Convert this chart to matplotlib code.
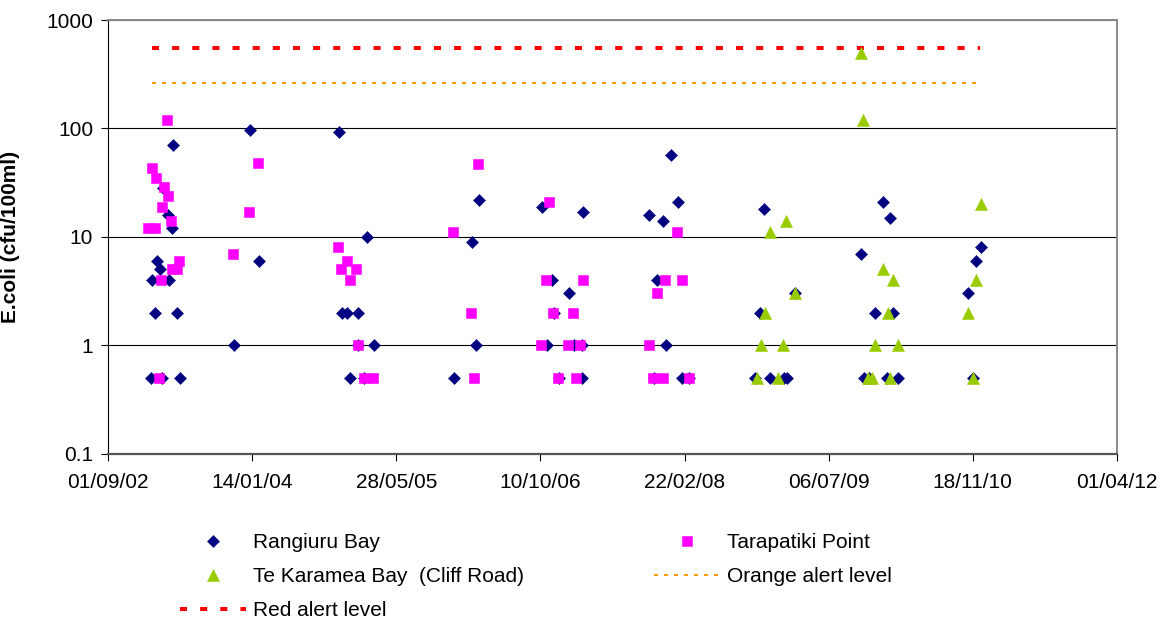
import matplotlib
matplotlib.use("Agg")
import matplotlib.pyplot as plt
from matplotlib.ticker import FixedLocator, NullLocator, FixedFormatter
import matplotlib.dates as mdates
from datetime import datetime, timedelta

plt.rcParams['font.family'] = ['Liberation Sans', 'DejaVu Sans']

# --- Sample results (E.coli, cfu/100ml) -------------------------------------
rangiuru_dates = [
    "2003-01-26", "2003-03-05", "2003-05-07", "2003-02-10", "2003-04-26",
    "2003-01-30", "2003-03-30", "2003-02-27", "2003-02-16", "2003-04-09",
    "2003-03-28", "2003-03-11", "2003-04-14",
    "2004-01-07", "2003-11-10", "2004-02-05",
    "2004-11-11", "2005-02-15", "2004-11-21", "2004-12-08", "2005-01-13",
    "2005-03-10", "2005-01-15", "2004-12-19", "2005-02-03",
    "2006-03-10", "2006-02-14", "2006-02-28", "2005-12-13", "2006-10-16",
    "2007-03-08", "2006-11-18", "2007-01-16", "2006-11-26", "2006-11-02",
    "2007-02-03", "2007-03-03", "2006-12-15", "2007-03-03",
    "2008-01-06", "2008-01-29", "2007-10-23", "2007-12-08", "2007-11-19",
    "2007-12-20", "2007-11-07", "2008-02-13", "2008-03-10",
    "2008-11-25", "2009-03-10", "2008-11-09", "2008-10-25", "2008-12-14",
    "2009-01-31", "2009-02-12",
    "2009-10-28", "2010-01-11", "2010-02-03", "2010-12-18", "2010-12-01",
    "2010-11-01", "2009-12-13", "2010-02-14", "2009-11-05", "2009-11-22",
    "2010-01-25", "2010-03-04", "2010-11-20",
]
rangiuru_values = [
    0.5, 0.5, 0.5, 2, 2,
    4, 4, 5, 6, 12,
    16, 28, 70,
    97, 1, 6,
    93, 10, 2, 2, 2,
    1, 1, 0.5, 0.5,
    22, 9, 1, 0.5, 19,
    17, 4, 3, 2, 1,
    1, 1, 0.5, 0.5,
    57, 21, 16, 14, 4,
    1, 0.5, 0.5, 0.5,
    18, 3, 2, 0.5, 0.5,
    0.5, 0.5,
    7, 21, 15, 8, 6,
    3, 2, 2, 0.5, 0.5,
    0.5, 0.5, 0.5,
]

tarapatiki_dates = [
    "2003-03-24", "2003-02-01", "2003-02-13", "2003-03-13", "2003-03-26",
    "2003-03-07", "2003-04-05", "2003-01-18", "2003-02-10", "2003-05-04",
    "2003-04-11", "2003-04-26", "2003-03-02", "2003-02-25",
    "2004-02-02", "2004-01-04", "2003-11-07",
    "2004-11-07", "2004-12-06", "2004-11-18", "2005-01-09", "2004-12-17",
    "2005-01-15", "2005-02-03", "2005-03-07",
    "2006-03-07", "2005-12-11", "2006-11-10", "2006-02-12", "2006-02-23",
    "2006-10-29", "2007-03-06", "2006-11-22", "2007-01-30", "2006-10-12",
    "2007-01-13", "2007-02-25", "2006-12-09", "2007-02-10",
    "2008-01-27", "2007-12-17", "2008-02-13", "2007-11-19", "2007-10-21",
    "2007-11-05", "2007-12-08", "2008-03-07",
]
tarapatiki_values = [
    120, 43, 35, 29, 24,
    19, 14, 12, 12, 6,
    5, 5, 4, 0.5,
    48, 17, 7,
    8, 6, 5, 5, 4,
    1, 0.5, 0.5,
    47, 11, 21, 2, 0.5,
    4, 4, 2, 2, 1,
    1, 1, 0.5, 0.5,
    11, 4, 4, 3, 1,
    0.5, 0.5, 0.5,
]

karamea_dates = [
    "2009-02-09", "2008-12-14", "2009-03-10", "2008-11-26", "2008-11-15",
    "2009-01-29", "2008-10-29", "2009-01-11",
    "2009-10-28", "2009-11-03", "2010-12-18", "2010-01-11", "2010-02-14",
    "2010-12-01", "2010-01-28", "2010-11-01", "2009-12-13", "2010-03-04",
    "2009-11-20", "2009-12-02", "2010-02-03", "2010-11-20",
]
karamea_values = [
    14, 11, 3, 2, 1,
    1, 0.5, 0.5,
    500, 120, 20, 5, 4,
    4, 2, 2, 1, 1,
    0.5, 0.5, 0.5, 0.5,
]

# Alert levels and the period they apply to
alert_period = ["2003-01-30", "2010-12-15"]
orange_alert = 260
red_alert = 550

series_names = ["Rangiuru Bay", "Tarapatiki Point", "Te Karamea Bay  (Cliff Road)",
                "Orange alert level", "Red alert level"]

y_ticks = [0.1, 1, 10, 100, 1000]
y_tick_labels = ["0.1", "1", "10", "100", "1000"]

# --- Drawing ----------------------------------------------------------------
def to_dates(values):
    return [datetime.strptime(v, "%Y-%m-%d") for v in values]

fig = plt.figure(figsize=(11.73, 6.2), dpi=100)
ax = fig.add_axes([108.3 / 1173, 1 - 453.5 / 620,
                   (1116.7 - 108.3) / 1173, (453.5 - 20) / 620])

navy = "#000080"
magenta = "#FF00FF"
lime = "#99CC00"

h_orange, = ax.plot(to_dates(alert_period), [orange_alert] * 2, color="#FF9900",
                    lw=1.44, dashes=(2.0, 3.0), solid_capstyle="butt", zorder=2)
h_red, = ax.plot(to_dates(alert_period), [red_alert] * 2, color="#FF0000",
                 lw=2.9, dashes=(1.75, 3.25), solid_capstyle="butt", zorder=2)

h_rang, = ax.plot(to_dates(rangiuru_dates), rangiuru_values, ls="none",
                  marker="D", ms=6.2, mfc=navy, mec=navy, mew=0.4, zorder=3)
h_tara, = ax.plot(to_dates(tarapatiki_dates), tarapatiki_values, ls="none",
                  marker="s", ms=7.0, mfc=magenta, mec=magenta, mew=0.4, zorder=4)
h_kara, = ax.plot(to_dates(karamea_dates), karamea_values, ls="none",
                  marker="^", ms=8.2, mfc=lime, mec=lime, mew=0.4, zorder=5)

ax.set_yscale("log")
ax.set_ylim(0.1, 1000)
ax.yaxis.set_major_locator(FixedLocator(y_ticks))
ax.yaxis.set_major_formatter(FixedFormatter(y_tick_labels))
ax.yaxis.set_minor_locator(NullLocator())

x_start = datetime(2002, 9, 1)
x_ticks = [x_start + timedelta(days=500 * k) for k in range(8)]
ax.set_xlim(x_ticks[0], x_ticks[-1])
ax.xaxis.set_major_locator(FixedLocator(mdates.date2num(x_ticks)))
ax.xaxis.set_major_formatter(mdates.DateFormatter("%d/%m/%y"))
ax.xaxis.set_minor_locator(NullLocator())

ax.set_axisbelow(True)
ax.yaxis.grid(True, color="black", lw=0.8)
ax.xaxis.grid(False)

ax.tick_params(axis="x", direction="out", length=5, width=0.8, pad=9,
               labelsize=15, color="black")
ax.tick_params(axis="y", direction="out", length=5, width=0.8, pad=6,
               labelsize=15, color="black")

ax.spines["left"].set_color("black")
ax.spines["left"].set_linewidth(0.8)
ax.spines["bottom"].set_color("#555555")
ax.spines["bottom"].set_linewidth(1.6)
ax.spines["top"].set_color("#8a8a8a")
ax.spines["top"].set_linewidth(1.4)
ax.spines["right"].set_color("#8a8a8a")
ax.spines["right"].set_linewidth(1.4)

ax.set_ylabel("E.coli (cfu/100ml)", fontsize=15, fontweight="bold")
ax.yaxis.set_label_coords(-0.0876, 0.5)

leg_handles = [h_rang, h_kara, h_red, h_tara, h_orange]
leg_labels = [series_names[0], series_names[2], series_names[4],
              series_names[1], series_names[3]]
fig.legend(leg_handles, leg_labels, ncol=2, loc="upper left",
           bbox_to_anchor=(180 / 1173, 1 - 533 / 620), frameon=False,
           fontsize=15, handlelength=3.15, handletextpad=0.35,
           columnspacing=6.25, labelspacing=0.72, borderpad=0,
           borderaxespad=0, numpoints=1)

fig.savefig("out.png", dpi=100, facecolor="white")
